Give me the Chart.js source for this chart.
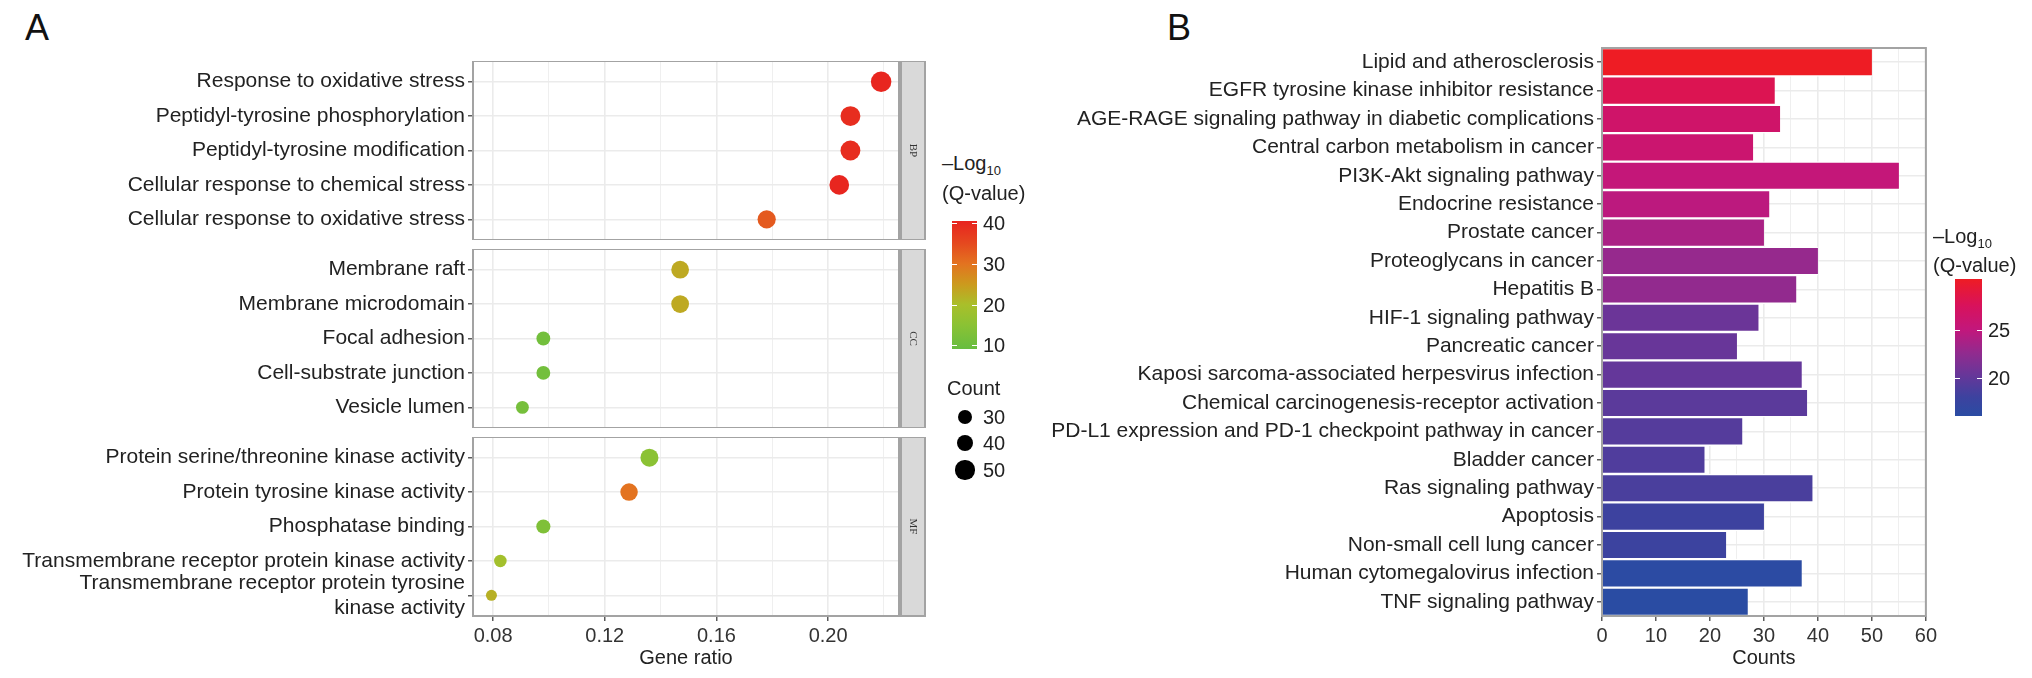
<!DOCTYPE html>
<html>
<head>
<meta charset="utf-8">
<script src="https://cdn.jsdelivr.net/npm/chart.js@4.4.1/dist/chart.umd.min.js"></script>
<style>
  body { margin: 0; background: #fff; width: 2032px; height: 678px; position: relative; overflow: hidden;
         font-family: "Liberation Sans", Arial, sans-serif; color: #222; }
  canvas, .abs { position: absolute; }
  .tag { font-size: 36px; line-height: 36px; color: #111; }
  .leg { font-size: 20px; line-height: 20px; white-space: nowrap; }
  .leg sub { font-size: 13px; line-height: 0; vertical-align: -5px; }
  .dot { background: #000; border-radius: 50%; }
  .bartick { background: #fff; height: 1px; }
</style>
</head>
<body>
<div class="abs tag" style="left:25px;top:10px">A</div>
<div class="abs tag" style="left:1167px;top:10px">B</div>

<canvas id="bp" width="929" height="179" style="left:0;top:61px"></canvas>
<canvas id="cc" width="929" height="179" style="left:0;top:249px"></canvas>
<canvas id="mf" width="929" height="241" style="left:0;top:437px"></canvas>
<canvas id="kegg" width="920" height="678" style="left:1020px;top:0"></canvas>

<div id="legendA"></div>
<div id="legendB"></div>

<script>
// GO enrichment (panel A)
const bpTerms = ["Response to oxidative stress", "Peptidyl-tyrosine phosphorylation",
  "Peptidyl-tyrosine modification", "Cellular response to chemical stress",
  "Cellular response to oxidative stress"];
const bpRatio = [0.219, 0.208, 0.208, 0.204, 0.178];
const bpCount = [56, 53, 53, 52, 46];
const bpLogQ = [40, 39, 39, 40, 33];

const ccTerms = ["Membrane raft", "Membrane microdomain", "Focal adhesion",
  "Cell-substrate junction", "Vesicle lumen"];
const ccRatio = [0.147, 0.147, 0.098, 0.098, 0.0905];
const ccCount = [44, 44, 30, 30, 27];
const ccLogQ = [23, 23, 11, 11, 11.5];

const mfTerms = ["Protein serine/threonine kinase activity", "Protein tyrosine kinase activity",
  "Phosphatase binding", "Transmembrane receptor protein kinase activity",
  ["Transmembrane receptor protein tyrosine", "kinase activity"]];
const mfRatio = [0.136, 0.1287, 0.098, 0.0826, 0.0794];
const mfCount = [45, 43, 31, 26, 22];
const mfLogQ = [15, 30, 13, 19, 22];

const ratioTicks = [0.08, 0.12, 0.16, 0.20];
const ratioGrid = [0.08, 0.10, 0.12, 0.14, 0.16, 0.18, 0.20, 0.22];
const qTicksA = [10, 20, 30, 40];
const countLegend = [30, 40, 50];

// KEGG enrichment (panel B)
const keggTerms = ["Lipid and atherosclerosis", "EGFR tyrosine kinase inhibitor resistance",
  "AGE-RAGE signaling pathway in diabetic complications", "Central carbon metabolism in cancer",
  "PI3K-Akt signaling pathway", "Endocrine resistance", "Prostate cancer",
  "Proteoglycans in cancer", "Hepatitis B", "HIF-1 signaling pathway", "Pancreatic cancer",
  "Kaposi sarcoma-associated herpesvirus infection", "Chemical carcinogenesis-receptor activation",
  "PD-L1 expression and PD-1 checkpoint pathway in cancer", "Bladder cancer",
  "Ras signaling pathway", "Apoptosis", "Non-small cell lung cancer",
  "Human cytomegalovirus infection", "TNF signaling pathway"];
const keggCounts = [50, 32, 33, 28, 55, 31, 30, 40, 36, 29, 25, 37, 38, 26, 19, 39, 30, 23, 37, 27];
const keggLogQ = [30.3, 28, 26.5, 26, 25.2, 24.7, 23.8, 22.8, 22.6, 20.5, 20.3, 20.1, 19.6, 19.3,
  19.0, 18.7, 18.0, 17.9, 16.2, 16.0];
const countTicks = [0, 10, 20, 30, 40, 50, 60];
const countGrid = [0, 5, 10, 15, 20, 25, 30, 35, 40, 45, 50, 55, 60];
const qTicksB = [20, 25];

// colour scales
const stopsA = [[9.1, "#67bd40"], [15, "#8bc234"], [20, "#a9bf2a"], [25, "#cc9a1d"],
  [30, "#e37320"], [35, "#e5491f"], [40.5, "#e8231f"]];
const stopsB = [[16.0, "#2a4ca3"], [18, "#3d429f"], [20, "#62389a"], [22.5, "#902b8f"],
  [25, "#c2177c"], [27.5, "#d8125c"], [30.3, "#ee1c24"]];

function hex2rgb(h) {
  return [1, 3, 5].map((i) => parseInt(h.substr(i, 2), 16));
}

function ramp(stops, v) {
  if (v <= stops[0][0]) return stops[0][1];
  for (let i = 1; i < stops.length; i++) {
    if (v <= stops[i][0]) {
      const t = (v - stops[i - 1][0]) / (stops[i][0] - stops[i - 1][0]);
      const a = hex2rgb(stops[i - 1][1]);
      const b = hex2rgb(stops[i][1]);
      const c = a.map((x, k) => Math.round(x + (b[k] - x) * t));
      return `rgb(${c[0]},${c[1]},${c[2]})`;
    }
  }
  return stops[stops.length - 1][1];
}

function dotRadius(count) {
  return Math.sqrt(2.2 * count - 18);
}

Chart.defaults.font.family = "'Liberation Sans', Arial, sans-serif";
Chart.defaults.color = "#222";

const GRID = "#ebebeb";
const FRAME = "#a3a3a3";

// panel border + facet strip on the right
const framePlugin = {
  id: "frame",
  afterDatasetsDraw(chart, args, opts) {
    const { ctx, chartArea: a } = chart;
    ctx.save();
    ctx.strokeStyle = FRAME;
    ctx.lineWidth = 2;
    ctx.strokeRect(a.left, a.top, a.right - a.left, a.bottom - a.top);
    if (opts.strip) {
      const x = a.right + 2;
      const w = 24;
      ctx.fillStyle = "#d9d9d9";
      ctx.fillRect(x, a.top, w, a.bottom - a.top);
      ctx.strokeRect(x, a.top, w, a.bottom - a.top);
      ctx.translate(x + w / 2, (a.top + a.bottom) / 2);
      ctx.rotate(Math.PI / 2);
      ctx.fillStyle = "#333";
      ctx.font = "11px 'Liberation Serif', serif";
      ctx.textAlign = "center";
      ctx.textBaseline = "middle";
      ctx.fillText(opts.strip, 0, 0);
    }
    ctx.restore();
  },
};

function makeFacet(id, terms, ratio, count, logq, strip, showX) {
  return new Chart(document.getElementById(id), {
    type: "scatter",
    data: {
      datasets: [{
        data: ratio.map((r, i) => ({ x: r, y: i })),
        pointRadius: (c) => dotRadius(count[c.dataIndex]),
        pointHoverRadius: (c) => dotRadius(count[c.dataIndex]),
        backgroundColor: (c) => ramp(stopsA, logq[c.dataIndex]),
        borderWidth: 0,
      }],
    },
    options: {
      responsive: false,
      animation: false,
      layout: { autoPadding: false, padding: { left: 0, right: 30, top: 0, bottom: 0 } },
      plugins: { legend: { display: false }, tooltip: { enabled: false }, frame: { strip } },
      scales: {
        x: {
          type: "linear",
          min: 0.0728,
          max: 0.2254,
          afterBuildTicks: (s) => { s.ticks = ratioGrid.map((v) => ({ value: v })); },
          afterFit: (s) => {
            s.height = showX ? 62 : 0;
            s.paddingLeft = 0;
            s.paddingRight = 0;
          },
          border: { display: false },
          grid: {
            color: GRID,
            lineWidth: (c) => (c.tick && ratioTicks.includes(c.tick.value) ? 1.6 : 0.8),
            drawTicks: showX,
            tickLength: 5,
            tickWidth: 1.2,
            tickColor: (c) => (c.tick && ratioTicks.includes(c.tick.value) ? "#333" : "rgba(0,0,0,0)"),
          },
          ticks: {
            display: showX,
            autoSkip: false,
            maxRotation: 0,
            padding: 3,
            font: { size: 20 },
            color: "#333",
            callback: (v) => (ratioTicks.includes(v) ? v.toFixed(2) : ""),
          },
          title: {
            display: showX,
            text: "Gene ratio",
            font: { size: 20 },
            color: "#222",
            padding: { top: 0, bottom: 8 },
          },
        },
        y: {
          type: "linear",
          reverse: true,
          min: -0.6,
          max: terms.length - 0.4,
          afterBuildTicks: (s) => { s.ticks = terms.map((t, i) => ({ value: i })); },
          afterFit: (s) => {
            s.width = 473;
            s.paddingTop = 0;
            s.paddingBottom = 0;
          },
          border: { display: false },
          grid: { color: GRID, lineWidth: 1.6, tickLength: 5, tickWidth: 1.2, tickColor: "#333" },
          ticks: {
            autoSkip: false,
            padding: 3,
            font: { size: 21 },
            color: "#222",
            callback: (v) => terms[v],
          },
        },
      },
    },
    plugins: [framePlugin],
  });
}

makeFacet("bp", bpTerms, bpRatio, bpCount, bpLogQ, "BP", false);
makeFacet("cc", ccTerms, ccRatio, ccCount, ccLogQ, "CC", false);
makeFacet("mf", mfTerms, mfRatio, mfCount, mfLogQ, "MF", true);

new Chart(document.getElementById("kegg"), {
  type: "bar",
  data: {
    labels: keggTerms,
    datasets: [{
      data: keggCounts,
      backgroundColor: keggLogQ.map((q) => ramp(stopsB, q)),
      borderColor: "#ffffff",
      borderWidth: { top: 1.5, bottom: 1.5, left: 0, right: 0 },
      borderSkipped: false,
      barPercentage: 1,
      categoryPercentage: 1,
    }],
  },
  options: {
    indexAxis: "y",
    responsive: false,
    animation: false,
    layout: { autoPadding: false, padding: { left: 0, right: 12, top: 48, bottom: 0 } },
    plugins: { legend: { display: false }, tooltip: { enabled: false }, frame: {} },
    scales: {
      x: {
        type: "linear",
        min: 0,
        max: 60,
        afterBuildTicks: (s) => { s.ticks = countGrid.map((v) => ({ value: v })); },
        afterFit: (s) => { s.height = 62; },
        border: { display: false },
        grid: {
          color: GRID,
          lineWidth: (c) => (c.tick && countTicks.includes(c.tick.value) ? 1.6 : 0.8),
          tickLength: 5,
          tickWidth: 1.2,
          tickColor: (c) => (c.tick && countTicks.includes(c.tick.value) ? "#333" : "rgba(0,0,0,0)"),
        },
        ticks: {
          autoSkip: false,
          maxRotation: 0,
          padding: 3,
          font: { size: 20 },
          color: "#333",
          callback: (v) => (countTicks.includes(v) ? String(v) : ""),
        },
        title: { display: true, text: "Counts", font: { size: 20 }, color: "#222", padding: { top: 0, bottom: 8 } },
      },
      y: {
        afterFit: (s) => {
          s.width = 582;
          s.paddingTop = 0;
          s.paddingBottom = 0;
        },
        border: { display: false },
        grid: { offset: false, color: GRID, lineWidth: 1.6, tickLength: 5, tickWidth: 1.2, tickColor: "#333" },
        ticks: { autoSkip: false, padding: 3, font: { size: 21 }, color: "#222" },
      },
    },
  },
  plugins: [framePlugin],
});

// legends (colour bars + size key)
function addDiv(parent, cls, style, html) {
  const d = document.createElement("div");
  d.className = "abs " + cls;
  Object.assign(d.style, style);
  if (html !== undefined) d.innerHTML = html;
  parent.appendChild(d);
  return d;
}

function colorBar(parent, stops, box, ticks) {
  const lo = stops[0][0];
  const hi = stops[stops.length - 1][0];
  const grad = stops.map(([v, c]) => `${c} ${((v - lo) / (hi - lo)) * 100}%`).join(", ");
  addDiv(parent, "", {
    left: box.x + "px", top: box.y + "px", width: box.w + "px", height: box.h + "px",
    background: `linear-gradient(to top, ${grad})`,
  });
  ticks.forEach((v) => {
    const y = box.y + box.h - ((v - lo) / (hi - lo)) * box.h;
    addDiv(parent, "bartick", { left: box.x + "px", top: y + "px", width: box.w / 5 + "px" });
    addDiv(parent, "bartick", { left: box.x + box.w - box.w / 5 + "px", top: y + "px", width: box.w / 5 + "px" });
    addDiv(parent, "leg", { left: box.x + box.w + 6 + "px", top: y - 10 + "px" }, String(v));
  });
}

const legA = document.getElementById("legendA");
addDiv(legA, "leg", { left: "942px", top: "153px" }, "&ndash;Log<sub>10</sub>");
addDiv(legA, "leg", { left: "942px", top: "183px" }, "(Q-value)");
colorBar(legA, stopsA, { x: 952, y: 221, w: 25, h: 128 }, qTicksA);
addDiv(legA, "leg", { left: "947px", top: "378px" }, "Count");
countLegend.forEach((c, i) => {
  const r = dotRadius(c);
  const cy = [417, 443, 470][i];
  addDiv(legA, "dot", { left: 965 - r + "px", top: cy - r + "px", width: 2 * r + "px", height: 2 * r + "px" });
  addDiv(legA, "leg", { left: "983px", top: cy - 10 + "px" }, String(c));
});

const legB = document.getElementById("legendB");
addDiv(legB, "leg", { left: "1933px", top: "226px" }, "&ndash;Log<sub>10</sub>");
addDiv(legB, "leg", { left: "1933px", top: "255px" }, "(Q-value)");
colorBar(legB, stopsB, { x: 1955, y: 279, w: 27, h: 137 }, qTicksB);
</script>
</body>
</html>
